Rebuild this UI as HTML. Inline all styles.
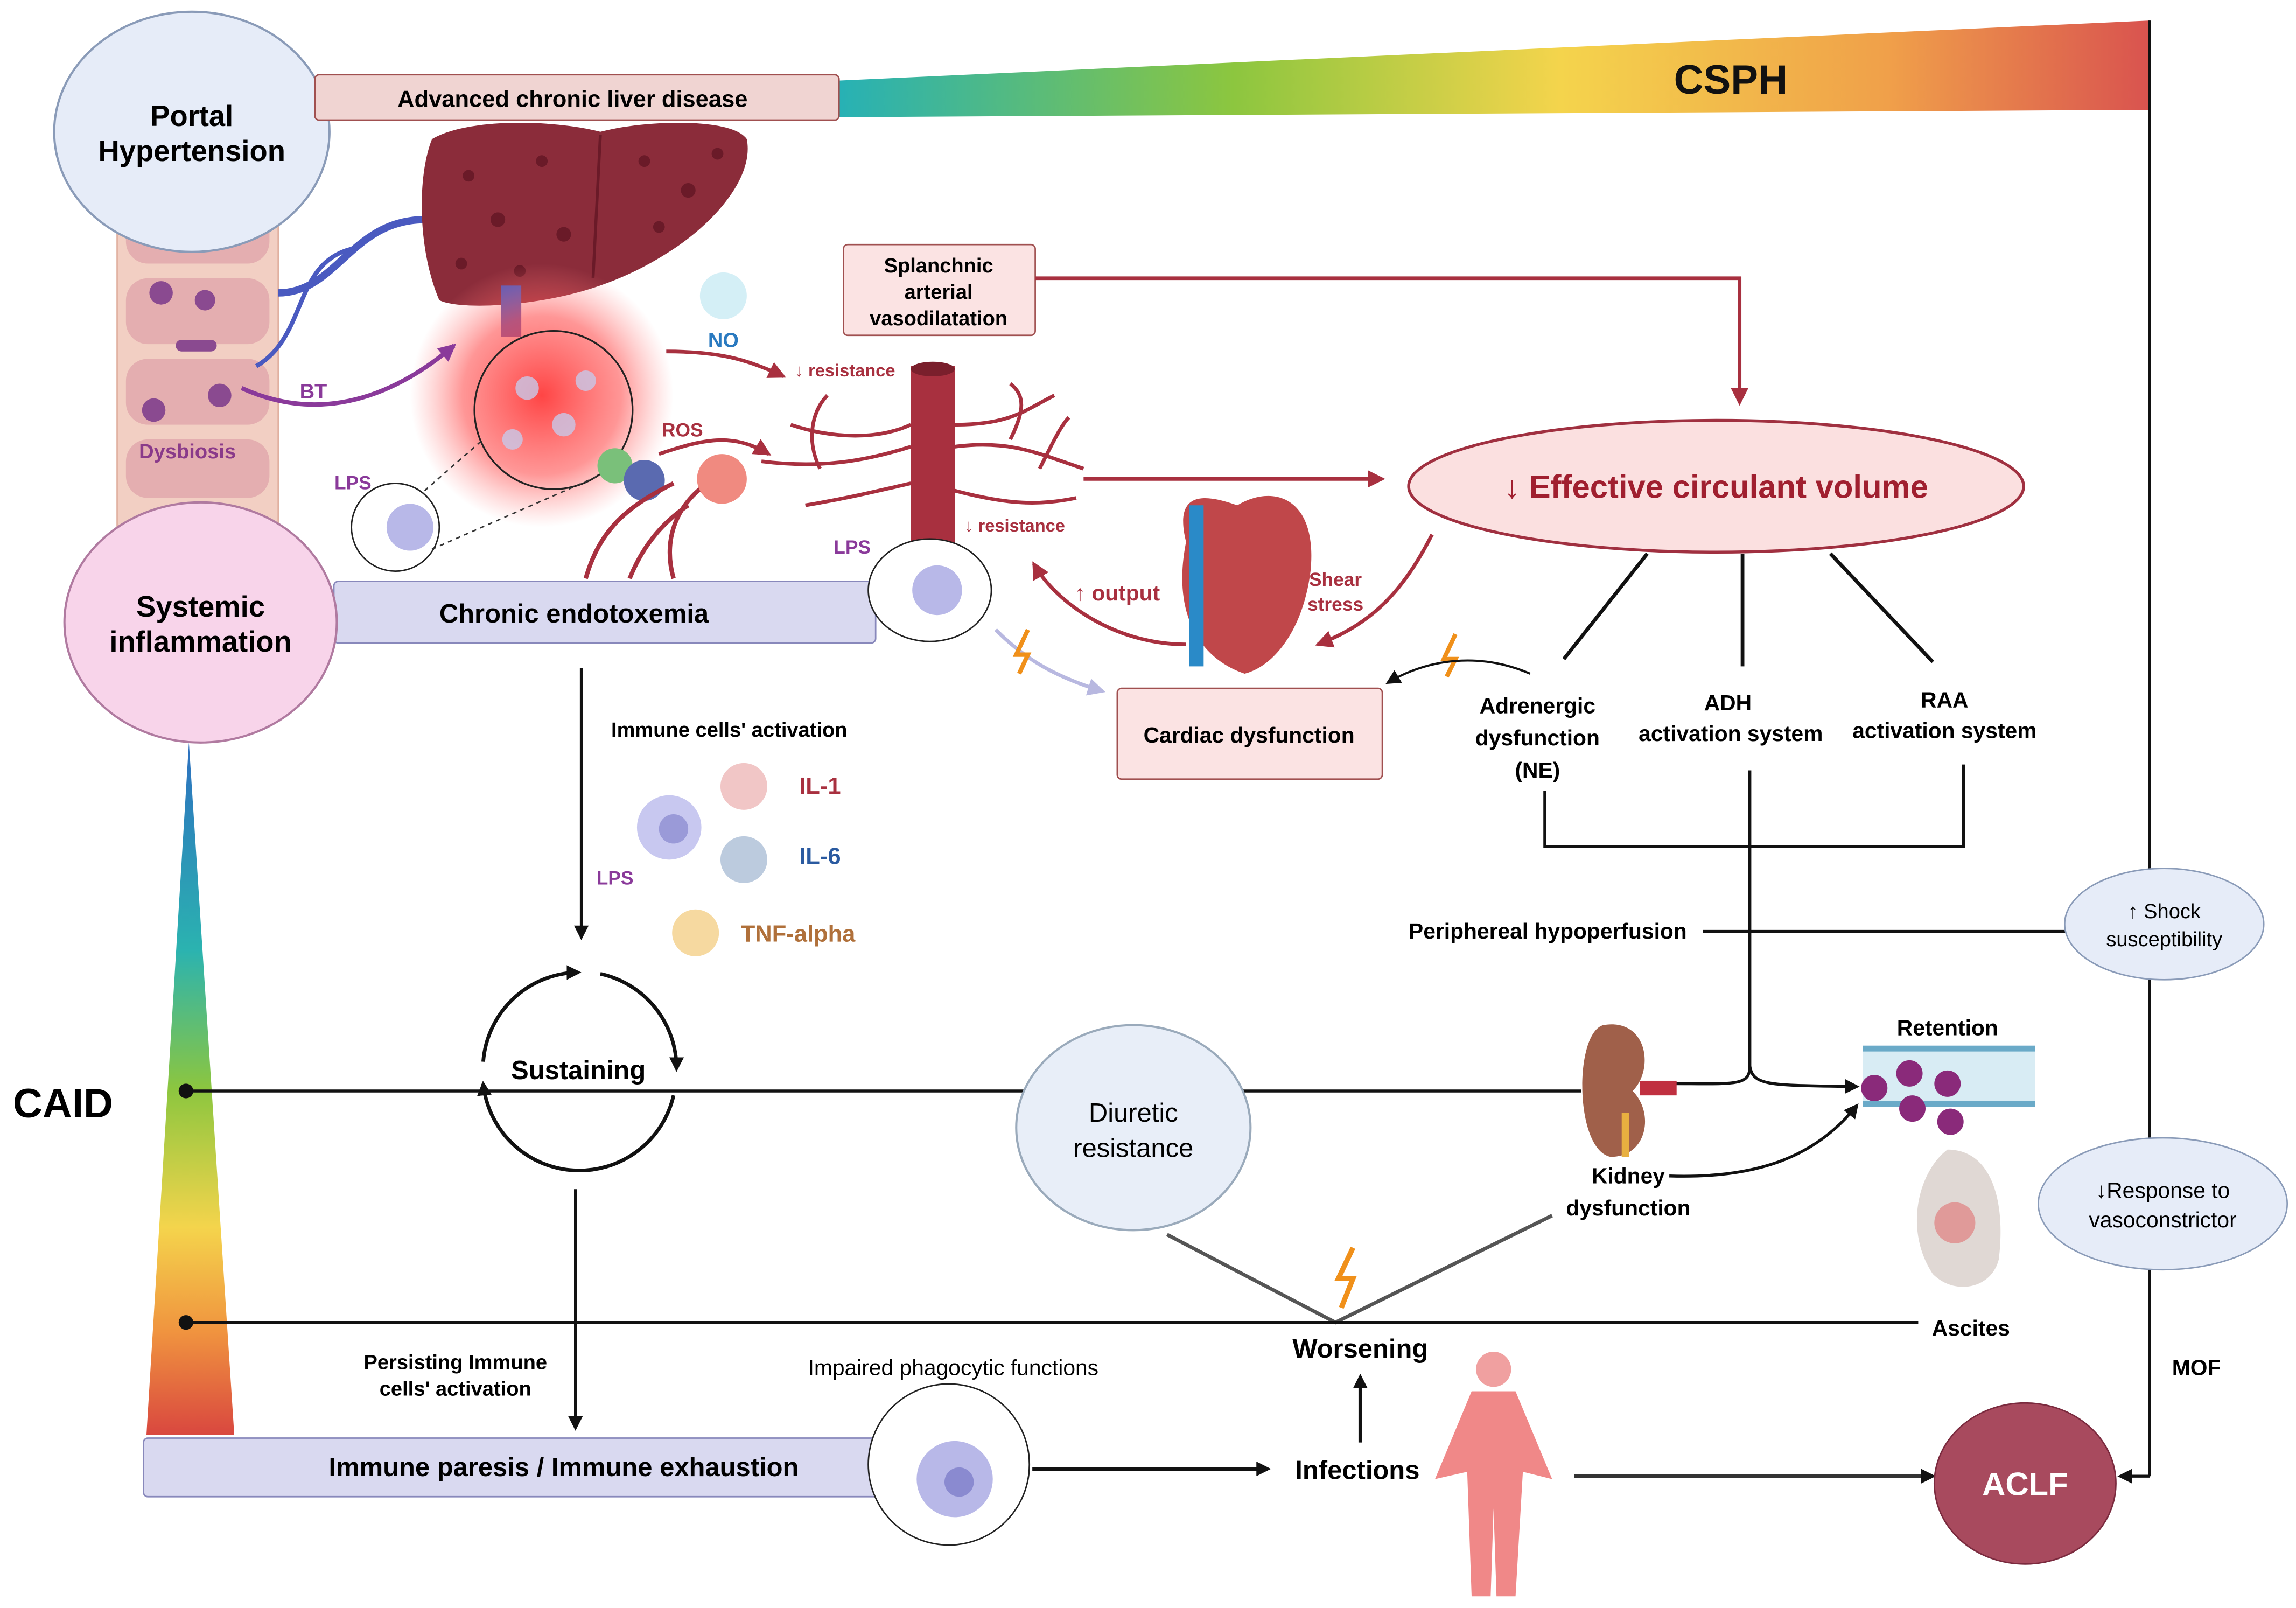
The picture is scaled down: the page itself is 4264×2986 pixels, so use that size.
<!DOCTYPE html>
<html><head><meta charset="utf-8"><style>
html,body{margin:0;padding:0;background:#fff;}
svg{display:block;}
text{font-family:"Liberation Sans",sans-serif;}
.b{font-weight:bold;}
</style></head><body>
<svg width="4264" height="2986" viewBox="0 0 1568 1098" xmlns="http://www.w3.org/2000/svg">
<defs>
<linearGradient id="gh" x1="0" y1="0" x2="1" y2="0">
<stop offset="0" stop-color="#27b1b5"/><stop offset="0.3" stop-color="#8cc63f"/><stop offset="0.55" stop-color="#f4d44c"/><stop offset="0.8" stop-color="#f0a04a"/><stop offset="1" stop-color="#d9534f"/></linearGradient>
<linearGradient id="gv" x1="0" y1="0" x2="0" y2="1">
<stop offset="0" stop-color="#2d6fc0"/><stop offset="0.3" stop-color="#2bb3b0"/><stop offset="0.5" stop-color="#8cc63f"/><stop offset="0.7" stop-color="#f4d44c"/><stop offset="0.85" stop-color="#f0943f"/><stop offset="1" stop-color="#d9473f"/></linearGradient>
<radialGradient id="glow"><stop offset="0" stop-color="#ff3030" stop-opacity="0.9"/><stop offset="0.6" stop-color="#ff5050" stop-opacity="0.6"/><stop offset="1" stop-color="#ff8080" stop-opacity="0"/></radialGradient>
<marker id="ak" markerWidth="10" markerHeight="10" refX="8" refY="5" orient="auto" markerUnits="userSpaceOnUse"><path d="M0,0 L10,5 L0,10 z" fill="#111"/></marker>
<marker id="ar" markerWidth="12" markerHeight="12" refX="10" refY="6" orient="auto" markerUnits="userSpaceOnUse"><path d="M0,0 L12,6 L0,12 z" fill="#a8303f"/></marker>
<marker id="ap" markerWidth="12" markerHeight="12" refX="10" refY="6" orient="auto" markerUnits="userSpaceOnUse"><path d="M0,0 L12,6 L0,12 z" fill="#8a3a9a"/></marker>
<marker id="al" markerWidth="12" markerHeight="12" refX="10" refY="6" orient="auto" markerUnits="userSpaceOnUse"><path d="M0,0 L12,6 L0,12 z" fill="#b8b8e0"/></marker>
</defs>

<polygon points="573,55 1468,14 1468,75 573,80" fill="url(#gh)"/>
<text x="1182" y="64" class="b" font-size="28" text-anchor="middle" fill="#111">CSPH</text>
<line x1="1468" y1="14" x2="1468" y2="1008" stroke="#111" stroke-width="2"/>
<line x1="1468" y1="1008" x2="1448" y2="1008" stroke="#111" stroke-width="2" marker-end="url(#ak)"/>

<rect x="80" y="120" width="110" height="290" rx="20" fill="#f2cfc3" stroke="#e0b0a0"/>
<g fill="#e4aeb0"><rect x="86" y="140" width="98" height="40" rx="15"/><rect x="86" y="190" width="98" height="45" rx="15"/><rect x="86" y="245" width="98" height="45" rx="15"/><rect x="86" y="300" width="98" height="40" rx="15"/></g>
<g fill="#8a4a90"><circle cx="110" cy="200" r="8"/><circle cx="140" cy="205" r="7"/><circle cx="105" cy="280" r="8"/><circle cx="150" cy="270" r="8"/><rect x="120" y="232" width="28" height="8" rx="4"/></g>
<text x="128" y="313" class="b" font-size="14" fill="#8a3a8a" text-anchor="middle">Dysbiosis</text>
<path d="M190,200 C230,200 240,150 290,150" stroke="#4a5ac0" stroke-width="5" fill="none"/>
<path d="M175,250 C210,230 200,180 240,170" stroke="#4a5ac0" stroke-width="3" fill="none"/>

<ellipse cx="131" cy="90" rx="94" ry="82" fill="#e6ecf8" stroke="#8a9bb8" stroke-width="1.5"/>
<text x="131" y="86" class="b" font-size="20" text-anchor="middle">Portal</text>
<text x="131" y="110" class="b" font-size="20" text-anchor="middle">Hypertension</text>
<rect x="215" y="51" width="358" height="31" rx="3" fill="#f0d4d2" stroke="#a05050"/>
<text x="391" y="73" class="b" font-size="16" text-anchor="middle">Advanced chronic liver disease</text>

<path d="M295,95 C320,80 380,82 410,90 C440,82 500,80 510,95 C515,120 490,150 460,170 C430,190 400,200 370,205 C340,210 310,210 300,205 C285,170 285,120 295,95 z" fill="#8b2c3a"/>
<path d="M410,92 L405,190" stroke="#6a1a28" stroke-width="2"/>
<g fill="#6a1a28"><circle cx="320" cy="120" r="4"/><circle cx="340" cy="150" r="5"/><circle cx="370" cy="110" r="4"/><circle cx="385" cy="160" r="5"/><circle cx="315" cy="180" r="4"/><circle cx="440" cy="110" r="4"/><circle cx="470" cy="130" r="5"/><circle cx="450" cy="155" r="4"/><circle cx="490" cy="105" r="4"/><circle cx="355" cy="185" r="4"/></g>
<rect x="342" y="195" width="14" height="35" fill="#4a5ac0"/>
<circle cx="370" cy="270" r="90" fill="url(#glow)"/>
<circle cx="378" cy="280" r="54" fill="none" stroke="#222" stroke-width="1.2"/>
<g fill="#c8c8e8" opacity="0.8"><circle cx="360" cy="265" r="8"/><circle cx="385" cy="290" r="8"/><circle cx="350" cy="300" r="7"/><circle cx="400" cy="260" r="7"/></g>
<text x="494" y="237" class="b" font-size="14" fill="#2a7ac0" text-anchor="middle">NO</text>
<circle cx="494" cy="202" r="16" fill="#b8e4f0" opacity="0.6"/>
<path d="M165,265 C220,290 270,270 310,236" stroke="#8a3a9a" stroke-width="3" fill="none" marker-end="url(#ap)"/>
<text x="214" y="272" class="b" font-size="14" fill="#8a3a9a" text-anchor="middle">BT</text>

<circle cx="270" cy="360" r="30" fill="#fff" stroke="#222"/>
<circle cx="280" cy="360" r="16" fill="#b8b8e8"/>
<text x="241" y="334" class="b" font-size="13" fill="#8a3a9a" text-anchor="middle">LPS</text>
<line x1="290" y1="335" x2="330" y2="300" stroke="#333" stroke-dasharray="3,3"/>
<line x1="295" y1="375" x2="420" y2="320" stroke="#333" stroke-dasharray="3,3"/>
<circle cx="420" cy="318" r="12" fill="#7ac07a"/><circle cx="440" cy="328" r="14" fill="#5a6ab0"/>
<path d="M400,395 C410,360 430,345 460,330 M430,395 C440,370 455,355 470,345 M460,395 C450,360 470,330 505,320" stroke="#a8303f" stroke-width="3" fill="none"/>
<circle cx="493" cy="327" r="17" fill="#f08a80"/>
<text x="466" y="298" class="b" font-size="13" fill="#a8303f" text-anchor="middle">ROS</text>
<path d="M450,310 C480,300 500,295 525,310" stroke="#a8303f" stroke-width="2.5" fill="none" marker-end="url(#ar)"/>
<path d="M455,240 C490,240 510,245 535,257" stroke="#a8303f" stroke-width="2.5" fill="none" marker-end="url(#ar)"/>
<text x="577" y="257" class="b" font-size="12" fill="#a8303f" text-anchor="middle">↓ resistance</text>

<path d="M520,315 C560,320 590,315 622,305 M652,305 C690,300 710,310 740,320 M540,290 C570,300 600,300 622,290 M652,290 C690,290 700,280 720,270 M550,345 C580,340 600,335 622,330 M652,335 C690,345 710,345 735,340 M690,300 C700,280 700,270 690,262 M560,320 C550,300 555,280 565,270 M710,320 C720,300 725,290 730,285" stroke="#a8303f" stroke-width="2.5" fill="none"/>
<rect x="622" y="250" width="30" height="125" fill="#a8303f"/>
<ellipse cx="637" cy="252" rx="15" ry="5" fill="#7a1f2c"/>
<text x="693" y="363" class="b" font-size="12" fill="#a8303f" text-anchor="middle">↓ resistance</text>
<text x="582" y="378" class="b" font-size="13" fill="#8a3a9a" text-anchor="middle">LPS</text>

<rect x="576" y="167" width="131" height="62" rx="3" fill="#fbe3e3" stroke="#a05050"/>
<text x="641" y="186" class="b" font-size="14" text-anchor="middle">Splanchnic</text>
<text x="641" y="204" class="b" font-size="14" text-anchor="middle">arterial</text>
<text x="641" y="222" class="b" font-size="14" text-anchor="middle">vasodilatation</text>
<polyline points="707,190 1188,190 1188,275" stroke="#a8303f" stroke-width="2.5" fill="none" marker-end="url(#ar)"/>
<line x1="740" y1="327" x2="944" y2="327" stroke="#a8303f" stroke-width="2.5" marker-end="url(#ar)"/>

<ellipse cx="1172" cy="332" rx="210" ry="45" fill="#fbe0e0" stroke="#a03040" stroke-width="2"/>
<text x="1172" y="340" class="b" font-size="22" fill="#a01f2f" text-anchor="middle">↓ Effective circulant volume</text>

<path d="M810,370 C800,330 830,340 845,345 C870,330 900,340 895,390 C890,430 870,455 850,460 C820,450 800,420 810,370 z" fill="#c0474a"/>
<rect x="812" y="345" width="10" height="110" fill="#2a8ac8"/>
<text x="763" y="410" class="b" font-size="15" fill="#a8303f" text-anchor="middle">↑ output</text>
<text x="912" y="400" class="b" font-size="13" fill="#a8303f" text-anchor="middle">Shear</text>
<text x="912" y="417" class="b" font-size="13" fill="#a8303f" text-anchor="middle">stress</text>
<path d="M810,440 C760,440 720,410 706,385" stroke="#a8303f" stroke-width="2.5" fill="none" marker-end="url(#ar)"/>
<path d="M978,365 C960,400 940,425 900,440" stroke="#a8303f" stroke-width="2.5" fill="none" marker-end="url(#ar)"/>
<path d="M680,430 C700,450 720,462 753,472" stroke="#b8b8e0" stroke-width="2.5" fill="none" marker-end="url(#al)"/>
<path d="M702,430 L694,447 L702,447 L696,460" stroke="#f0901a" stroke-width="3" fill="none"/>
<path d="M994,433 L986,450 L994,450 L988,462" stroke="#f0901a" stroke-width="3" fill="none"/>
<rect x="763" y="470" width="181" height="62" rx="3" fill="#fbe3e3" stroke="#a05050"/>
<text x="853" y="507" class="b" font-size="15" text-anchor="middle">Cardiac dysfunction</text>
<path d="M1045,460 C1010,445 975,450 948,466" stroke="#111" stroke-width="1.5" fill="none" marker-end="url(#ak)"/>

<g stroke="#111" stroke-width="2.5"><line x1="1125" y1="378" x2="1068" y2="450"/><line x1="1190" y1="378" x2="1190" y2="455"/><line x1="1250" y1="378" x2="1320" y2="452"/></g>
<g class="b" font-size="15" text-anchor="middle">
<text x="1050" y="487">Adrenergic</text><text x="1050" y="509">dysfunction</text><text x="1050" y="531">(NE)</text>
<text x="1180" y="485">ADH</text><text x="1182" y="506">activation system</text>
<text x="1328" y="483">RAA</text><text x="1328" y="504">activation system</text></g>
<polyline points="1055,540 1055,578 1341,578 1341,522" stroke="#111" stroke-width="2" fill="none"/>
<line x1="1195" y1="526" x2="1195" y2="728" stroke="#111" stroke-width="2"/>
<path d="M1195,728 C1195,742 1185,740 1140,740" stroke="#111" stroke-width="2" fill="none"/>
<path d="M1195,728 C1197,742 1210,741 1268,742" stroke="#111" stroke-width="2" fill="none" marker-end="url(#ak)"/>

<text x="1057" y="641" class="b" font-size="15" text-anchor="middle">Periphereal hypoperfusion</text>
<line x1="1163" y1="636" x2="1412" y2="636" stroke="#111" stroke-width="2"/>
<ellipse cx="1478" cy="631" rx="68" ry="38" fill="#e6ecf8" stroke="#8a9bb8"/>
<text x="1478" y="627" font-size="14" text-anchor="middle">↑ Shock</text>
<text x="1478" y="646" font-size="14" text-anchor="middle">susceptibility</text>
<ellipse cx="1477" cy="822" rx="85" ry="45" fill="#e6ecf8" stroke="#8a9bb8"/>
<text x="1477" y="818" font-size="15" text-anchor="middle">↓Response to</text>
<text x="1477" y="838" font-size="15" text-anchor="middle">vasoconstrictor</text>
<text x="1500" y="939" class="b" font-size="15" text-anchor="middle">MOF</text>

<polygon points="129,507 160,980 100,980" fill="url(#gv)"/>
<rect x="228" y="397" width="370" height="42" rx="3" fill="#d9d9f0" stroke="#8888bb"/>
<text x="392" y="425" class="b" font-size="18" text-anchor="middle">Chronic  endotoxemia</text>
<ellipse cx="635" cy="403" rx="42" ry="35" fill="#fff" stroke="#222"/>
<circle cx="640" cy="403" r="17" fill="#b8b8e8"/>
<ellipse cx="137" cy="425" rx="93" ry="82" fill="#f8d4ea" stroke="#b07aa0" stroke-width="1.5"/>
<text x="137" y="421" class="b" font-size="20" text-anchor="middle">Systemic</text>
<text x="137" y="445" class="b" font-size="20" text-anchor="middle">inflammation</text>
<text x="43" y="763" class="b" font-size="28" text-anchor="middle">CAID</text>

<line x1="397" y1="456" x2="397" y2="640" stroke="#111" stroke-width="2" marker-end="url(#ak)"/>
<text x="498" y="503" class="b" font-size="14" text-anchor="middle">Immune cells' activation</text>
<circle cx="457" cy="565" r="22" fill="#c8c8f0"/><circle cx="460" cy="566" r="10" fill="#9a9ad8"/>
<text x="420" y="604" class="b" font-size="13" fill="#8a3a9a" text-anchor="middle">LPS</text>
<circle cx="508" cy="537" r="16" fill="#e8a0a0" opacity="0.6"/><text x="560" y="542" class="b" font-size="16" fill="#a8303f" text-anchor="middle">IL-1</text>
<circle cx="508" cy="587" r="16" fill="#90a8c8" opacity="0.6"/><text x="560" y="590" class="b" font-size="16" fill="#2a5aa0" text-anchor="middle">IL-6</text>
<circle cx="475" cy="637" r="16" fill="#f0c060" opacity="0.6"/><text x="545" y="643" class="b" font-size="16" fill="#b0703a" text-anchor="middle">TNF-alpha</text>

<path d="M410,665 A66,66 0 0 1 462,730" stroke="#111" stroke-width="2.5" fill="none" marker-end="url(#ak)"/>
<path d="M460,748 A66,66 0 0 1 330,740" stroke="#111" stroke-width="2.5" fill="none" marker-end="url(#ak)"/>
<path d="M330,725 A66,66 0 0 1 395,664" stroke="#111" stroke-width="2.5" fill="none" marker-end="url(#ak)"/>
<line x1="127" y1="745" x2="1080" y2="745" stroke="#111" stroke-width="2"/>
<circle cx="127" cy="745" r="5" fill="#111"/>
<rect x="345" y="719" width="100" height="24" fill="#fff"/>
<text x="395" y="737" class="b" font-size="18" text-anchor="middle">Sustaining</text>
<line x1="393" y1="812" x2="393" y2="975" stroke="#111" stroke-width="2" marker-end="url(#ak)"/>
<text x="311" y="935" class="b" font-size="14" text-anchor="middle">Persisting Immune</text>
<text x="311" y="953" class="b" font-size="14" text-anchor="middle">cells' activation</text>
<text x="651" y="939" font-size="15" text-anchor="middle">Impaired phagocytic functions</text>

<ellipse cx="774" cy="770" rx="80" ry="70" fill="#e8eef8" stroke="#9aaabb" stroke-width="1.5"/>
<text x="774" y="766" font-size="18" text-anchor="middle">Diuretic</text>
<text x="774" y="790" font-size="18" text-anchor="middle">resistance</text>
<path d="M1095,700 C1125,695 1130,730 1115,745 C1130,760 1125,790 1100,790 C1075,785 1075,705 1095,700 z" fill="#a0604a"/>
<rect x="1120" y="738" width="25" height="10" fill="#c03040"/>
<path d="M1110,760 L1110,790" stroke="#e8b040" stroke-width="5"/>
<text x="1112" y="808" class="b" font-size="15" text-anchor="middle">Kidney</text>
<text x="1112" y="830" class="b" font-size="15" text-anchor="middle">dysfunction</text>
<path d="M1140,803 C1200,805 1240,790 1268,755" stroke="#111" stroke-width="2" fill="none" marker-end="url(#ak)"/>
<text x="1330" y="707" class="b" font-size="15" text-anchor="middle">Retention</text>
<rect x="1272" y="714" width="118" height="42" fill="#d8ecf4"/>
<line x1="1272" y1="716" x2="1390" y2="716" stroke="#6aaac8" stroke-width="4"/>
<line x1="1272" y1="754" x2="1390" y2="754" stroke="#6aaac8" stroke-width="4"/>
<g fill="#8a2a7a"><circle cx="1280" cy="743" r="9"/><circle cx="1304" cy="733" r="9"/><circle cx="1330" cy="740" r="9"/><circle cx="1306" cy="757" r="9"/><circle cx="1332" cy="766" r="9"/></g>
<path d="M1330,785 C1360,785 1370,820 1365,860 C1360,880 1335,885 1320,870 C1300,840 1310,800 1330,785 z" fill="#e0d8d4"/>
<circle cx="1335" cy="835" r="14" fill="#e08080" opacity="0.7"/>
<text x="1346" y="912" class="b" font-size="15" text-anchor="middle">Ascites</text>

<polyline points="797,843 912,903 1060,830" stroke="#555" stroke-width="2.5" fill="none"/>
<line x1="127" y1="903" x2="1310" y2="903" stroke="#111" stroke-width="2"/>
<circle cx="127" cy="903" r="5" fill="#111"/>
<path d="M924,852 L914,873 L924,873 L916,893" stroke="#f0901a" stroke-width="3.5" fill="none"/>
<text x="929" y="927" class="b" font-size="18" text-anchor="middle">Worsening</text>

<rect x="98" y="982" width="510" height="40" rx="3" fill="#d9d9f0" stroke="#8888bb"/>
<text x="385" y="1008" class="b" font-size="18" text-anchor="middle">Immune paresis / Immune exhaustion</text>
<circle cx="648" cy="1000" r="55" fill="#fff" stroke="#222"/>
<circle cx="652" cy="1010" r="26" fill="#b8b8e8"/><circle cx="655" cy="1012" r="10" fill="#8a8ad0"/>
<line x1="705" y1="1003" x2="866" y2="1003" stroke="#111" stroke-width="2.5" marker-end="url(#ak)"/>
<text x="927" y="1010" class="b" font-size="18" text-anchor="middle">Infections</text>
<line x1="929" y1="985" x2="929" y2="940" stroke="#111" stroke-width="2.5" marker-end="url(#ak)"/>
<circle cx="1020" cy="935" r="12" fill="#f0a0a0"/>
<path d="M1005,950 L1035,950 L1060,1010 L1040,1005 L1035,1090 L1022,1090 L1020,1030 L1018,1090 L1005,1090 L1002,1005 L980,1010 z" fill="#f08888"/>
<line x1="1075" y1="1008" x2="1320" y2="1008" stroke="#333" stroke-width="2.5" marker-end="url(#ak)"/>
<ellipse cx="1383" cy="1013" rx="62" ry="55" fill="#a84a5e" stroke="#7a2a3e"/>
<text x="1383" y="1021" class="b" font-size="22" fill="#fff" text-anchor="middle">ACLF</text>
</svg>
</body></html>
